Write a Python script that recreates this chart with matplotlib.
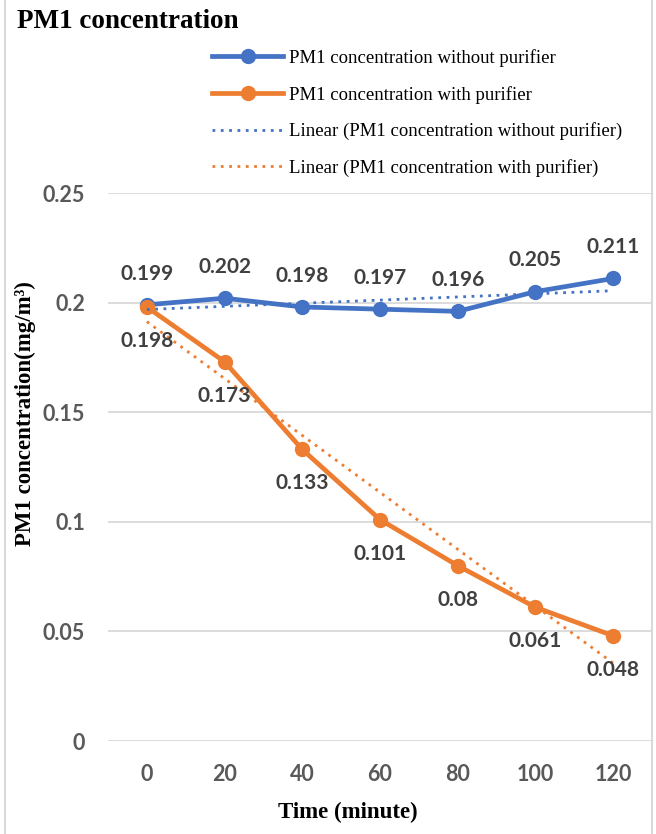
import numpy as np
import matplotlib.pyplot as plt
from matplotlib.lines import Line2D

# measured PM1 concentrations (mg/m3) every 20 minutes
time_min = [0, 20, 40, 60, 80, 100, 120]
pm1_without = [0.199, 0.202, 0.198, 0.197, 0.196, 0.205, 0.211]
pm1_with = [0.198, 0.173, 0.133, 0.101, 0.08, 0.061, 0.048]

y_ticks = [0, 0.05, 0.1, 0.15, 0.2, 0.25]
y_tick_labels = ['0', '0.05', '0.1', '0.15', '0.2', '0.25']

BLUE = '#4472C4'
ORANGE = '#ED7D31'
GRID = '#D9D9D9'
TICK_GRAY = '#595959'
LABEL_GRAY = '#404040'
SERIF = 'Liberation Serif'
SANS = 'Lato'


def linear_trend(x, y):
    slope, intercept = np.polyfit(x, y, 1)
    return slope * np.asarray(x) + intercept


fig = plt.figure(figsize=(6.56, 8.34), dpi=100)
W, H = 656, 834
ax = fig.add_axes([108 / W, (H - 741) / H, 544 / W, (741 - 193) / H])

idx = np.arange(len(time_min))

ax.plot(idx, pm1_without, color=BLUE, lw=3.4, marker='o', ms=10,
        solid_capstyle='round', zorder=3)
ax.plot(idx, pm1_with, color=ORANGE, lw=3.4, marker='o', ms=10,
        solid_capstyle='round', zorder=3)
ax.plot(idx, linear_trend(idx, pm1_without), color=BLUE, lw=2,
        ls=(0, (1, 2)), zorder=4)
ax.plot(idx, linear_trend(idx, pm1_with), color=ORANGE, lw=2,
        ls=(0, (1, 2)), zorder=4)

for i, v in zip(idx, pm1_without):
    ax.annotate(f'{v:g}', (i, v), xytext=(0, 22.5), textcoords='offset points',
                ha='center', va='center', fontsize=15, fontweight='bold',
                family=SANS, color=LABEL_GRAY, zorder=5)
for i, v in zip(idx, pm1_with):
    ax.annotate(f'{v:g}', (i, v), xytext=(0, -24.5), textcoords='offset points',
                ha='center', va='center', fontsize=15, fontweight='bold',
                family=SANS, color=LABEL_GRAY, zorder=5)

ax.set_xlim(-0.5, len(time_min) - 0.5)
ax.set_ylim(0, 0.25)
ax.set_xticks(idx)
ax.set_xticklabels([str(t) for t in time_min])
ax.set_yticks(y_ticks)
ax.set_yticklabels(y_tick_labels)
ax.tick_params(length=0, pad=16.5, labelsize=15.5, labelcolor=TICK_GRAY)
for lab in ax.get_xticklabels() + ax.get_yticklabels():
    lab.set_family(SANS)
    lab.set_fontweight('bold')

ax.grid(axis='y', color=GRID, lw=1.3)
ax.set_axisbelow(True)
for s in ax.spines.values():
    s.set_visible(False)

fig.text(17 / W, 1 - 22 / H, 'PM1 concentration', fontsize=19.5,
         fontweight='bold', family=SERIF, ha='left', va='center')
fig.text(348 / W, 1 - 812 / H, 'Time (minute)', fontsize=16.5,
         fontweight='bold', family=SERIF, ha='center', va='center')
fig.text(25 / W, 1 - 414 / H, 'PM1 concentration(mg/m³)',
         fontsize=16.5, fontweight='bold', family=SERIF, rotation=90,
         ha='center', va='center')

handles = [
    Line2D([], [], color=BLUE, lw=3.4, marker='o', ms=10),
    Line2D([], [], color=ORANGE, lw=3.4, marker='o', ms=10),
    Line2D([], [], color=BLUE, lw=2, ls=(0, (1, 2))),
    Line2D([], [], color=ORANGE, lw=2, ls=(0, (1, 2))),
]
labels = [
    'PM1 concentration without purifier',
    'PM1 concentration with purifier',
    'Linear (PM1 concentration without purifier)',
    'Linear (PM1 concentration with purifier)',
]
fig.legend(handles, labels, loc='upper left',
           bbox_to_anchor=(212 / W, 1 - 49 / H), frameon=False,
           borderpad=0, borderaxespad=0, handlelength=3.8,
           handletextpad=0.3, labelspacing=1.0,
           prop={'family': SERIF, 'size': 13.5})

# chart frame
for x in (5 / W, 652 / W):
    fig.add_artist(Line2D([x, x], [0, 1], transform=fig.transFigure,
                          color=GRID, lw=1.5))

fig.savefig('out.png', dpi=100)
